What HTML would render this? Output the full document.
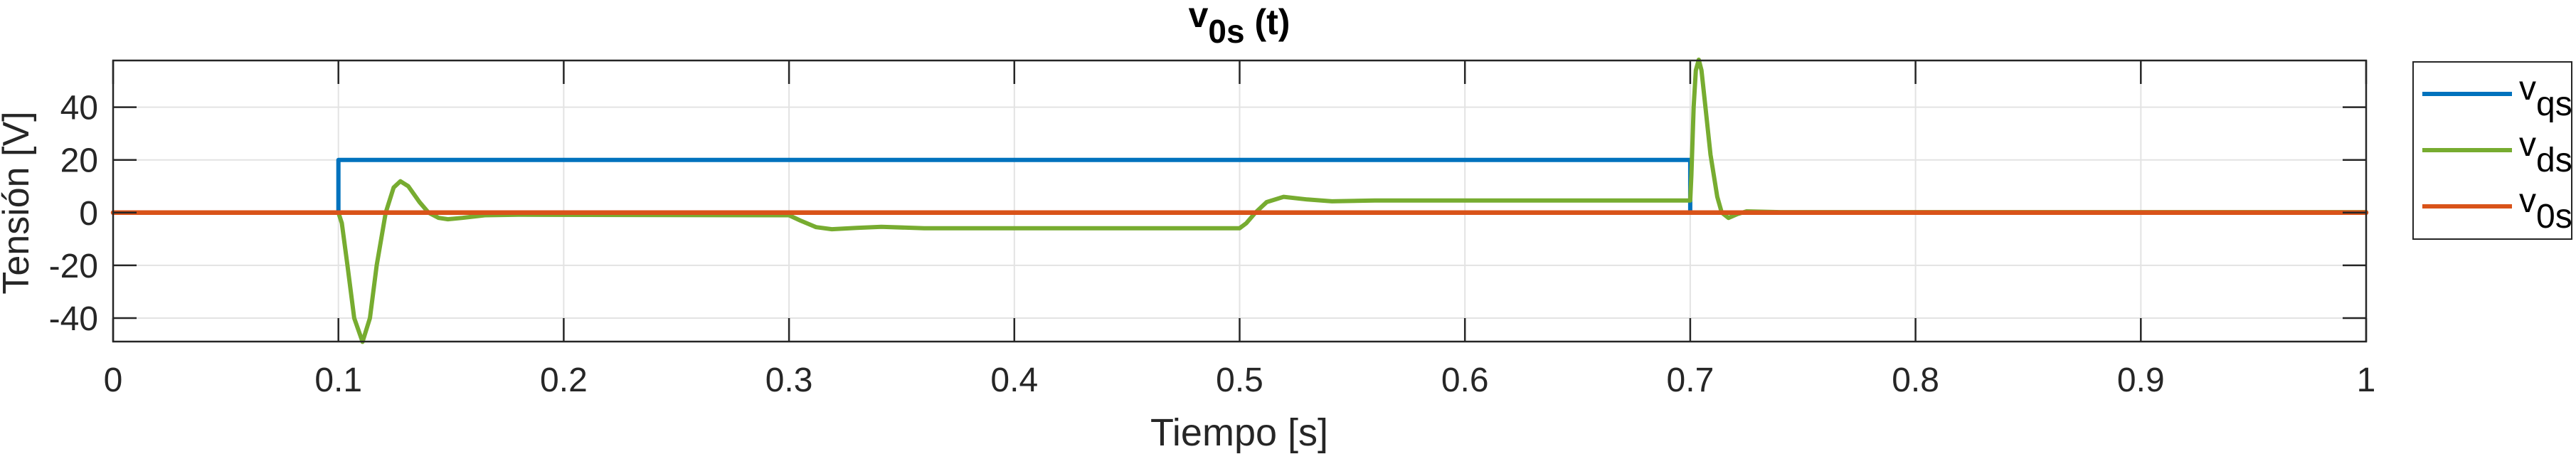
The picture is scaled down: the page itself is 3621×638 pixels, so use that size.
<!DOCTYPE html>
<html><head><meta charset="utf-8"><style>
html,body{margin:0;padding:0;background:#fff;}
svg{display:block;font-family:"Liberation Sans",Arial,sans-serif;}
</style></head><body>
<svg id="chart" width="3621" height="638" viewBox="0 0 3621 638" xmlns="http://www.w3.org/2000/svg">
<g id="grid"></g>
<g id="series"></g>
<g id="axes"></g>
<text x="1742" y="38" text-anchor="middle" font-size="50" font-weight="bold" fill="#000">v<tspan dy="22" font-size="46">0s</tspan><tspan dy="-12"> (t)</tspan></text>
<text x="1742" y="626" text-anchor="middle" font-size="54" fill="#262626">Tiempo [s]</text>
<text transform="translate(40,285) rotate(-90)" text-anchor="middle" font-size="52" fill="#262626">Tensión [V]</text>
<g>
<rect x="3392" y="87" width="223" height="249" fill="#fff" stroke="#262626" stroke-width="2"/>
<g><line x1="3405" y1="132" x2="3531" y2="132" stroke="#0072BD" stroke-width="6"/><text x="3541" y="140" font-size="48" fill="#000">v<tspan dy="22">qs</tspan></text></g>
<g><line x1="3405" y1="211" x2="3531" y2="211" stroke="#77AC30" stroke-width="6"/><text x="3541" y="219" font-size="48" fill="#000">v<tspan dy="22">ds</tspan></text></g>
<g><line x1="3405" y1="290" x2="3531" y2="290" stroke="#D95319" stroke-width="6"/><text x="3541" y="298" font-size="48" fill="#000">v<tspan dy="22">0s</tspan></text></g>
</g>
</svg>
<script>
const xTicks=[0,0.1,0.2,0.3,0.4,0.5,0.6,0.7,0.8,0.9,1];
const xTickLabels=["0","0.1","0.2","0.3","0.4","0.5","0.6","0.7","0.8","0.9","1"];
const yTicks=[-40,-20,0,20,40];
const yTickLabels=["-40","-20","0","20","40"];
const qsT=[0,0.1,0.1,0.7,0.7,1];
const qsV=[0,0,20,20,0,0];
const dsT=[0,0.1,0.1015,0.104,0.107,0.1107,0.114,0.117,0.121,0.1245,0.1275,0.131,0.136,0.140,0.1445,0.1486,0.155,0.165,0.18,0.3,0.305,0.312,0.319,0.33,0.341,0.36,0.5,0.503,0.507,0.512,0.5195,0.53,0.541,0.56,0.7,0.7005,0.7015,0.7025,0.7038,0.705,0.7065,0.709,0.712,0.714,0.717,0.721,0.725,0.74,1];
const dsV=[0,0,-4,-20,-40,-49,-40,-20,0,9.5,11.9,10,4,0,-2,-2.5,-2,-1,-0.8,-1,-3,-5.5,-6.3,-5.8,-5.4,-5.9,-5.9,-4,0,4,6,5,4.3,4.6,4.6,14,40,54,58,54,42,22,6,0,-2,-0.5,0.5,0.2,0.2];
const zsT=[0,1];
const zsV=[0,0];
const X0=159,X1=3326,Y0=85,Y1=480,YMIN=-48.9,YMAX=57.7;
function sx(t){return X0+(t-0)/(1-0)*(X1-X0);}
function sy(v){return Y1-(v-YMIN)/(YMAX-YMIN)*(Y1-Y0);}
const NS="http://www.w3.org/2000/svg";
function mk(tag,attrs,parent){const e=document.createElementNS(NS,tag);for(const k in attrs)e.setAttribute(k,attrs[k]);parent.appendChild(e);return e;}
const grid=document.getElementById('grid'),axes=document.getElementById('axes'),series=document.getElementById('series');
xTicks.forEach((t,i)=>{
  const g=mk('line',{x1:sx(t),x2:sx(t),y1:Y0,y2:Y1,stroke:'#e3e3e3','stroke-width':2},grid);
  
  
  const a=mk('line',{x1:sx(t),x2:sx(t),y1:Y1,y2:Y1-33,stroke:'#262626','stroke-width':2.5},axes);
  
  
  const b=mk('line',{x1:sx(t),x2:sx(t),y1:Y0,y2:Y0+33,stroke:'#262626','stroke-width':2.5},axes);
  
  
  const l=mk('text',{x:sx(t),y:550,'text-anchor':'middle','font-size':48,fill:'#262626'},axes);
  l.textContent=xTickLabels[i];
  
  
});
yTicks.forEach((v,i)=>{
  const g=mk('line',{x1:X0,x2:X1,y1:sy(v),y2:sy(v),stroke:'#e3e3e3','stroke-width':2},grid);
  
  
  const a=mk('line',{x1:X0,x2:X0+33,y1:sy(v),y2:sy(v),stroke:'#262626','stroke-width':2.5},axes);
  
  
  const b=mk('line',{x1:X1,x2:X1-33,y1:sy(v),y2:sy(v),stroke:'#262626','stroke-width':2.5},axes);
  
  
  const l=mk('text',{x:138,y:sy(v)+17,'text-anchor':'end','font-size':48,fill:'#262626'},axes);
  l.textContent=yTickLabels[i];
  
  
});
const box=mk('rect',{x:X0,y:Y0,width:X1-X0,height:Y1-Y0,fill:'none',stroke:'#262626','stroke-width':2.5},axes);


function line(T,V,color,w,name){
  const d=T.map((t,i)=>(i?'L':'M')+sx(t).toFixed(1)+' '+sy(V[i]).toFixed(1)).join(' ');
  const p=mk('path',{d:d,fill:'none',stroke:color,'stroke-width':w,'stroke-linejoin':'round','stroke-linecap':'round'},series);
  
  
}
line(qsT,qsV,'#0072BD',6,'series-vqs');
line(dsT,dsV,'#77AC30',6,'series-vds');
line(zsT,zsV,'#D95319',6.5,'series-v0s');
</script>
</body></html>
